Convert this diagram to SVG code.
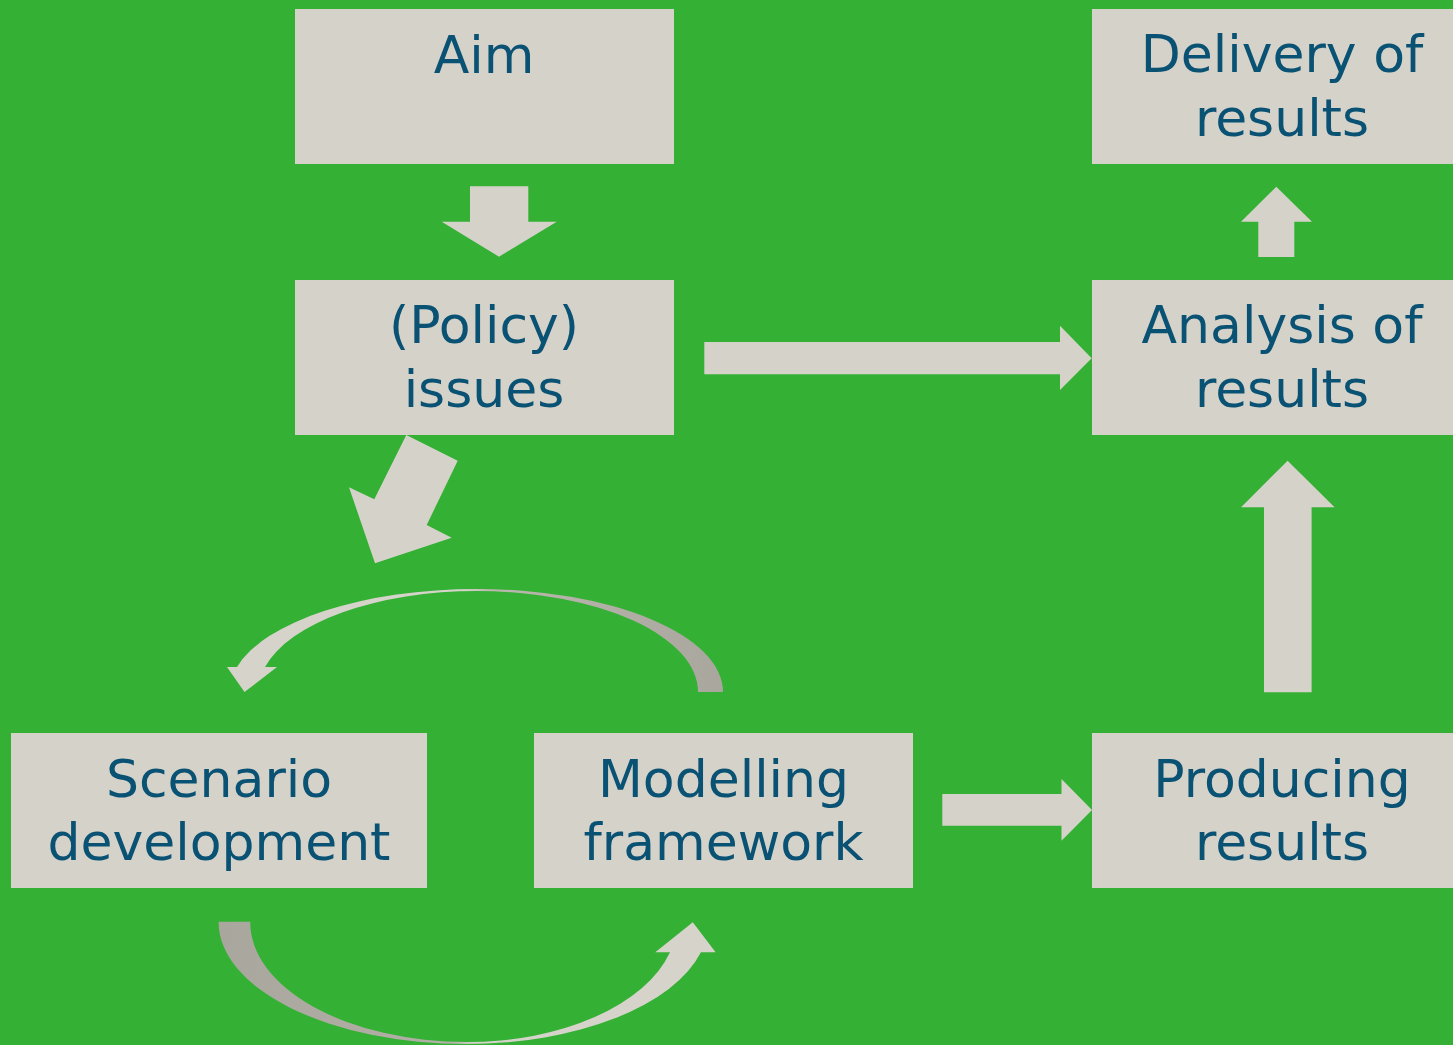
<svg xmlns="http://www.w3.org/2000/svg" width="1453" height="1045" viewBox="0 0 1453 1045">
<style>
.box{fill:#d5d2ca}
.lbl{font-family:"DejaVu Sans",Verdana,sans-serif;font-size:52px;fill:#0a5273;text-anchor:middle}
.arr{fill:#d5d2ca}
</style>
<defs>
<linearGradient id="gTop" gradientUnits="userSpaceOnUse" x1="227" y1="0" x2="723" y2="0">
<stop offset="0" stop-color="#d6d3cb"/>
<stop offset="0.48" stop-color="#d6d3cb"/>
<stop offset="0.53" stop-color="#bbb8b0"/>
<stop offset="1" stop-color="#a9a69e"/>
</linearGradient>
<linearGradient id="gBot" gradientUnits="userSpaceOnUse" x1="218" y1="0" x2="716" y2="0">
<stop offset="0" stop-color="#a9a69e"/>
<stop offset="0.47" stop-color="#b3b0a8"/>
<stop offset="0.52" stop-color="#d6d3cb"/>
<stop offset="1" stop-color="#d6d3cb"/>
</linearGradient>
</defs>
<rect x="0" y="0" width="1453" height="1045" fill="#34b034"/>
<g id="connectors">
<polygon class="arr" points="470,186.3 528.3,186.3 528.3,221.7 556.7,221.7 499,256.7 441.7,221.7 470,221.7"/>
<polygon class="arr" points="406.3,435 457.7,460.7 426.7,525 451.7,537.7 375,563.3 349,487.3 374.3,499.3"/>
<polygon class="arr" points="704.3,342 1060,342 1060,325.7 1091.7,358.3 1060,390 1060,374.3 704.3,374.3"/>
<polygon class="arr" points="1258.3,257 1258.3,221.7 1241,221.7 1276.3,186.7 1312,221.7 1294.3,221.7 1294.3,257"/>
<polygon class="arr" points="1264,692.3 1264,507.3 1241.1,507.3 1287.6,460.7 1334.6,507.3 1311.6,507.3 1311.6,692.3"/>
<polygon class="arr" points="942.3,794 1061.5,794 1061.5,779 1092,810 1061.5,840.7 1061.5,825.7 942.3,825.7"/>
<path fill="url(#gTop)" d="M723,692 A246,103 0 0 0 477,589 A247.4,103 0 0 0 237,667 L227,667 L244.5,692 L277,667 L265,667 A218.8,101 0 0 1 477,591 A221,101 0 0 1 698,692 Z"/>
<path fill="url(#gBot)" d="M218.6,921.7 A248,122 0 0 0 466.6,1044 A242,122 0 0 0 700.9,952.3 L715.6,952.3 L692.8,922.3 L655.3,952.3 L670,952.3 A210,121 0 0 1 466.6,1042 A216.4,120 0 0 1 250.2,921.7 Z"/>
</g>
<g id="aim">
<rect class="box" x="295" y="9" width="379" height="155"/>
<text class="lbl" x="484" y="72.7">Aim</text>
</g>
<g id="policy">
<rect class="box" x="295" y="280" width="379" height="155"/>
<text class="lbl" x="484" y="342.7">(Policy)</text>
<text class="lbl" x="484" y="406.7">issues</text>
</g>
<g id="delivery">
<rect class="box" x="1092" y="9" width="380" height="155"/>
<text class="lbl" x="1282" y="71.7">Delivery of</text>
<text class="lbl" x="1282" y="136">results</text>
</g>
<g id="analysis">
<rect class="box" x="1092" y="280" width="380" height="155"/>
<text class="lbl" x="1282" y="342.7">Analysis of</text>
<text class="lbl" x="1282" y="406.7">results</text>
</g>
<g id="scenario">
<rect class="box" x="11" y="733" width="416" height="155"/>
<text class="lbl" x="219" y="796.7">Scenario</text>
<text class="lbl" x="219" y="860">development</text>
</g>
<g id="modelling">
<rect class="box" x="534" y="733" width="379" height="155"/>
<text class="lbl" x="723.5" y="796.7">Modelling</text>
<text class="lbl" x="723.5" y="860">framework</text>
</g>
<g id="producing">
<rect class="box" x="1092" y="733" width="380" height="155"/>
<text class="lbl" x="1282" y="796.7">Producing</text>
<text class="lbl" x="1282" y="860">results</text>
</g>
</svg>
